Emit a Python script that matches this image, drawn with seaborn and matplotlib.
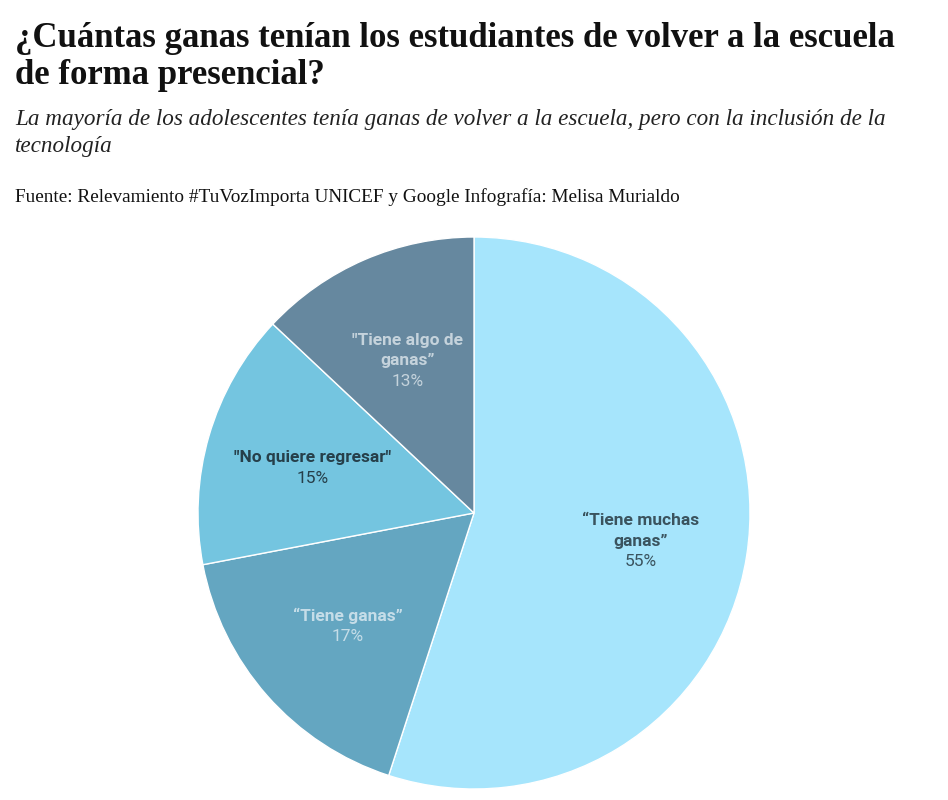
import numpy as np
import matplotlib.pyplot as plt
import seaborn as sns

# data
categories = ["“Tiene muchas\nganas”", "“Tiene ganas”", "\"No quiere regresar\"", "\"Tiene algo de\nganas”"]
values = [55, 17, 15, 13]
pct_labels = ["55%", "17%", "15%", "13%"]

colors = ["#a6e5fc", "#64a6c1", "#74c5e0", "#66889f"]
text_colors = ["#3a535e", "#c5dde8", "#263f4a", "#c5d3dc"]

sns.set_theme(style="white")
plt.rcParams["font.family"] = ["Liberation Serif", "DejaVu Serif"]

fig = plt.figure(figsize=(9.48, 8), dpi=100)

# pie: center (474, 513) px, radius 276 px
R = 276
ax = fig.add_axes([(474 - R) / 948, (800 - 513 - R) / 800, 2 * R / 948, 2 * R / 800])
wedges, _ = ax.pie(values, colors=sns.color_palette(colors), startangle=90, counterclock=False,
                   radius=1, wedgeprops=dict(edgecolor="white", linewidth=1))
ax.set_xlim(-1, 1)
ax.set_ylim(-1, 1)
ax.set_aspect("equal")
ax.axis("off")

line_px = 20.5
for w, name, pct, tc in zip(wedges, categories, pct_labels, text_colors):
    mid = np.deg2rad((w.theta1 + w.theta2) / 2)
    x, y = 0.61 * np.cos(mid), 0.61 * np.sin(mid)
    lines = name.split("\n")
    n = len(lines) + 1
    for i, ln in enumerate(lines + [pct]):
        off = ((n - 1) / 2 - i) * line_px * 0.72 - 1.5
        ax.annotate(ln, (x, y), xytext=(0, off), textcoords="offset points",
                    ha="center", va="center", color=tc, fontsize=12.5,
                    fontweight="bold" if i < len(lines) else "normal",
                    family=["Roboto", "DejaVu Sans"])

fig.text(15 / 948, 1 - 22 / 800,
         "¿Cuántas ganas tenían los estudiantes de volver a la escuela\nde forma presencial?",
         ha="left", va="top", fontsize=25, fontweight="bold", color="#111111", linespacing=1.18)
fig.text(15 / 948, 1 - 109 / 800,
         "La mayoría de los adolescentes tenía ganas de volver a la escuela, pero con la inclusión de la\ntecnología",
         ha="left", va="top", fontsize=16.7, style="italic", color="#222222", linespacing=1.35)
fig.text(15 / 948, 1 - 188 / 800,
         "Fuente: Relevamiento #TuVozImporta UNICEF y Google Infografía: Melisa Murialdo",
         ha="left", va="top", fontsize=13.9, color="#111111")

fig.savefig("out.png", dpi=100)
